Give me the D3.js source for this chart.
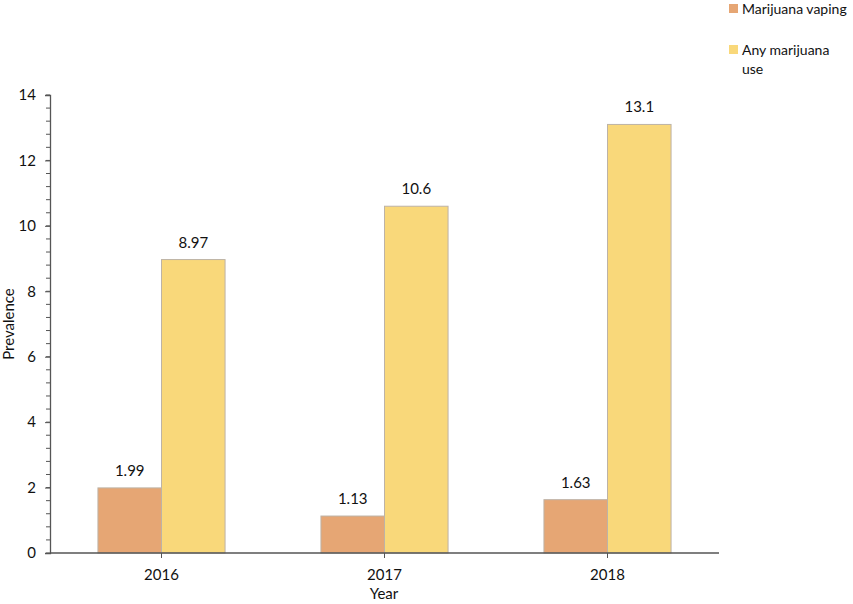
<!DOCTYPE html>
<html><head><meta charset="utf-8">
<script src="https://cdn.jsdelivr.net/npm/d3@7"></script>
<style>body{margin:0;background:#fff}svg{display:block}text{font-family:Lato,"Open Sans",sans-serif;fill:#111}</style>
</head><body>
<svg id="c" width="853" height="604"></svg>
<script>
const years = ["2016","2017","2018"];
const seriesNames = ["Marijuana vaping","Any marijuana use"];
const vaping = [1.99, 1.13, 1.63];
const anyUse = [8.97, 10.6, 13.1];
const labelsVaping = ["1.99","1.13","1.63"];
const labelsAny = ["8.97","10.6","13.1"];
const yTicks = [0,2,4,6,8,10,12,14];
const colors = ["#E6A674","#F9D87A"];

const svg = d3.select("#c");
const L = 50, R = 719, T = 95, B = 553;
const x = d3.scaleBand().domain(years).range([L,R]).padding(0);
const y = d3.scaleLinear().domain([0,14]).range([B,T]);
const bw = x.bandwidth()*0.285;

// minor ticks
const minor = d3.range(0,14.001,0.4);
svg.append("g").selectAll("line").data(minor).join("line")
  .attr("x1",L-4).attr("x2",L).attr("y1",d=>y(d)).attr("y2",d=>y(d))
  .attr("stroke","#555").attr("stroke-width",1);

const yAxis = svg.append("g").attr("transform",`translate(${L},0)`)
  .call(d3.axisLeft(y).tickValues(yTicks).tickSize(5).tickPadding(9).tickFormat(d3.format("d")));
yAxis.select(".domain").attr("stroke","#555").attr("stroke-width",1.3);
yAxis.selectAll(".tick line").attr("stroke","#555");
yAxis.selectAll("text").style("font-size","15px").attr("fill","#111");

const series = [vaping, anyUse];
const labels = [labelsVaping, labelsAny];
series.forEach((vals,si)=>{
  const g = svg.append("g");
  g.selectAll("rect").data(years).join("rect")
    .attr("x",d=>x(d)+x.bandwidth()/2 + (si===0?-bw:0))
    .attr("y",(d,i)=>y(vals[i]))
    .attr("width",bw)
    .attr("height",(d,i)=>B-y(vals[i]))
    .attr("fill",colors[si]).attr("stroke","#bdb3a6").attr("stroke-width",1);
  g.selectAll("text").data(years).join("text")
    .attr("x",d=>x(d)+x.bandwidth()/2 + (si===0?-bw/2:bw/2))
    .attr("y",(d,i)=>y(vals[i])-12)
    .attr("text-anchor","middle").style("font-size","15px")
    .text((d,i)=>labels[si][i]);
});

const xAxis = svg.append("g").attr("transform",`translate(0,${B})`)
  .call(d3.axisBottom(x).tickSize(5).tickPadding(11));
xAxis.select(".domain").attr("stroke","#555").attr("stroke-width",1.3).attr("d",`M${L},0H${R}`);
xAxis.selectAll(".tick line").attr("stroke","#555");
xAxis.selectAll("text").style("font-size","15px").attr("fill","#111");

svg.append("text").attr("x",384).attr("y",599).attr("text-anchor","middle").style("font-size","15px").text("Year");
svg.append("text").attr("transform","translate(14,324) rotate(-90)").attr("text-anchor","middle").style("font-size","15px").text("Prevalence");

// legend
const leg = svg.append("g");
leg.append("rect").attr("x",729).attr("y",4).attr("width",9).attr("height",9).attr("fill",colors[0]);
leg.append("text").attr("x",742).attr("y",14).style("font-size","14px").text(seriesNames[0]);
leg.append("rect").attr("x",729).attr("y",45).attr("width",9).attr("height",9).attr("fill",colors[1]);
leg.append("text").attr("x",742).attr("y",55).style("font-size","14px").text("Any marijuana");
leg.append("text").attr("x",742).attr("y",74).style("font-size","14px").text("use");
</script>
</body></html>
